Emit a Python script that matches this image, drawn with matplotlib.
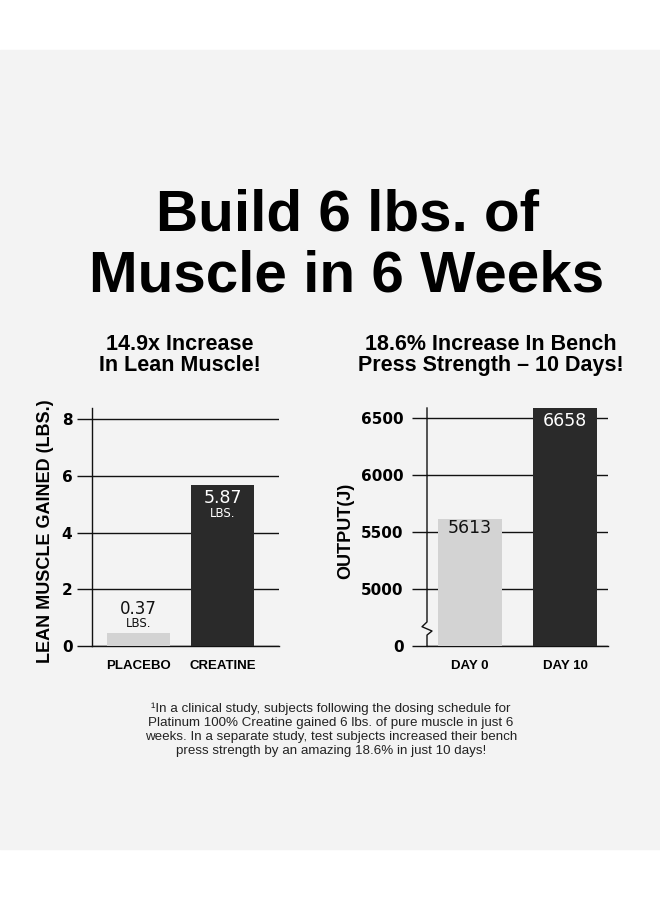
import numpy as np
import matplotlib.pyplot as plt
from matplotlib.patches import Rectangle

# --- data ---
muscle_groups = ['PLACEBO', 'CREATINE']
muscle_gain = [0.46, 5.67]          # drawn bar heights (lbs)
muscle_text = ['0.37', '5.87']      # printed values
muscle_ticks = [0, 2, 4, 6, 8]

bench_groups = ['DAY 0', 'DAY 10']
bench_output = [5613, 6658]         # joules
bench_ticks = [4500, 5000, 5500, 6000, 6500]
bench_ticklabels = ['0', '5000', '5500', '6000', '6500']
break_base = 4500                   # axis is broken: "0" sits where 4500 would be

title_lines = ['Build 6 lbs. of', 'Muscle in 6 Weeks']
left_sub = ['14.9x Increase', 'In Lean Muscle!']
right_sub = ['18.6% Increase In Bench', 'Press Strength \u2013 10 Days!']
footnote = ('\u00b9In a clinical study, subjects following the dosing schedule for\n'
            'Platinum 100% Creatine gained 6 lbs. of pure muscle in just 6\n'
            'weeks. In a separate study, test subjects increased their bench\n'
            'press strength by an amazing 18.6% in just 10 days!')

BG = '#f3f3f3'
LIGHT = '#d3d3d3'
DARK = '#2a2a2a'
INK = '#111111'
HEAD = 'Liberation Sans'
TICKF = 'DejaVu Sans'

W, H = 660, 900
fig = plt.figure(figsize=(W / 100, H / 100), dpi=100, facecolor='white')
fig.patches.append(Rectangle((0, 1 - 849 / H), 1, (849 - 50) / H,
                             transform=fig.transFigure, color=BG, zorder=-10))


def fx(x):
    return x / W


def fy(y):
    return 1 - y / H


# headline
for line, base in zip(title_lines, [231, 292]):
    fig.text(fx(347), fy(base), line, ha='center', va='baseline',
             fontsize=42, fontweight='bold', family=HEAD, color='black')

for lines, cx in [(left_sub, 180), (right_sub, 491)]:
    for line, base in zip(lines, [350, 371]):
        fig.text(fx(cx), fy(base), line, ha='center', va='baseline',
                 fontsize=15.5, fontweight='bold', family=HEAD, color='black')

fig.text(fx(331), fy(729.5), footnote, ha='center', va='center', multialignment='center',
         fontsize=9.6, family=HEAD, color='#222222', linespacing=1.23)


def style_axes(ax, pad):
    ax.set_facecolor('none')
    for s in ['top', 'right']:
        ax.spines[s].set_visible(False)
    for s in ['left', 'bottom']:
        ax.spines[s].set_color(INK)
        ax.spines[s].set_linewidth(1.0)
    ax.set_axisbelow(True)
    ax.yaxis.grid(True, color=INK, linewidth=1.0)
    ax.tick_params(axis='y', length=10.5, width=1.0, color=INK, pad=pad)
    ax.tick_params(axis='x', length=0, pad=10)
    for lab in ax.get_yticklabels():
        lab.set_fontfamily(TICKF)
        lab.set_fontweight('bold')
        lab.set_fontsize(11)
    for lab in ax.get_xticklabels():
        lab.set_fontfamily(HEAD)
        lab.set_fontweight('bold')
        lab.set_fontsize(9.5)


# --- left chart: lean muscle ---
ax1 = fig.add_axes([fx(92), fy(646), 187 / W, 238 / H])
x1 = np.arange(len(muscle_groups))
ax1.bar(x1, muscle_gain, width=0.76, color=[LIGHT, DARK], zorder=3)
ax1.set_xlim(-0.554, 1.673)
ax1.set_ylim(0, 8.39)
ax1.set_yticks(muscle_ticks)
ax1.set_xticks(x1, muscle_groups)
style_axes(ax1, pad=3.6)
ax1.set_ylabel('LEAN MUSCLE GAINED (LBS.)', fontsize=13, fontweight='bold', family=HEAD)
ax1.yaxis.set_label_coords(-0.203, 0.483)

# value labels: placebo above the bar, creatine inside
ax1.annotate(muscle_text[0], (x1[0], muscle_gain[0]), xytext=(0, 17.5), textcoords='offset points',
             ha='center', va='center', fontsize=12, family=TICKF, color=INK)
ax1.annotate('LBS.', (x1[0], muscle_gain[0]), xytext=(0, 6.5), textcoords='offset points',
             ha='center', va='center', fontsize=8.5, family=TICKF, color=INK)
ax1.annotate(muscle_text[1], (x1[1], muscle_gain[1]), xytext=(0, -9.4), textcoords='offset points',
             ha='center', va='center', fontsize=12.5, family=TICKF, color='white')
ax1.annotate('LBS.', (x1[1], muscle_gain[1]), xytext=(0, -20.5), textcoords='offset points',
             ha='center', va='center', fontsize=8.5, family=TICKF, color='white')

# --- right chart: bench output ---
ax2 = fig.add_axes([fx(427), fy(646), 181 / W, 238 / H])
x2 = np.arange(len(bench_groups))
heights = np.array(bench_output) - break_base
ax2.bar(x2, heights, bottom=break_base, width=0.674, color=[LIGHT, DARK], zorder=3)
ax2.set_xlim(-0.453, 1.453)
ax2.set_ylim(break_base, 6590)
ax2.set_yticks(bench_ticks, bench_ticklabels)
ax2.set_xticks(x2, bench_groups)
style_axes(ax2, pad=6.5)
ax2.spines['left'].set_visible(False)
ax2.set_ylabel('OUTPUT(J)', fontsize=13, fontweight='bold', family=HEAD)
ax2.yaxis.set_label_coords(-0.403, 0.483)

# left spine with the zig-zag break
ax2.plot([0, 0, -0.0276, 0.0276, 0, 0], [1, 0.101, 0.081, 0.063, 0.046, 0],
         transform=ax2.transAxes, color=INK, linewidth=1.0, clip_on=False, zorder=5)

for xi, v, col, dy in zip(x2, bench_output, [INK, 'white'], [-6.5, -15]):
    ax2.annotate(str(v), (xi, v), xytext=(0, dy), textcoords='offset points',
                 ha='center', va='center', fontsize=12.5, family=TICKF, color=col,
                 annotation_clip=False)

fig.savefig('out.png', dpi=100, facecolor=fig.get_facecolor())
